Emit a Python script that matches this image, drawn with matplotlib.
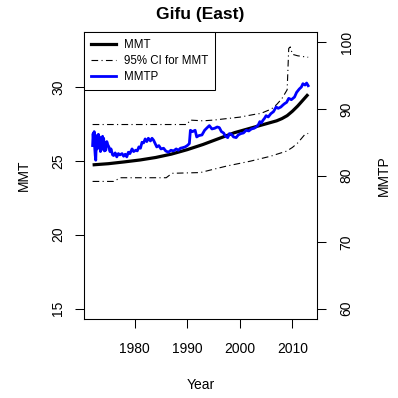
import numpy as np
import matplotlib.pyplot as plt
from matplotlib.lines import Line2D

plt.rcParams['font.family'] = ['Liberation Sans', 'DejaVu Sans']

# MMT (left axis)
mmt_year = [1972, 1975, 1978, 1981, 1984, 1987, 1990, 1993, 1996, 1999,
            2002, 2005, 2007, 2008, 2009, 2010, 2011, 2012, 2013]
mmt = [24.72, 24.8, 24.92, 25.05, 25.22, 25.45, 25.75, 26.1, 26.5, 26.9,
       27.2, 27.5, 27.7, 27.85, 28.05, 28.35, 28.7, 29.1, 29.5]

# 95% CI for MMT
ci_up_year = [1972, 1990, 1990.5, 1993, 1995, 2000, 2003, 2004, 2006, 2007,
              2008, 2009, 2009.3, 2009.6, 2010, 2011, 2013]
ci_up = [27.45, 27.45, 27.75, 27.7, 27.75, 27.95, 28.15, 28.2, 28.5, 28.8,
         29.2, 29.8, 32.6, 32.7, 32.2, 32.1, 32.0]
ci_lo_year = [1972, 1976, 1977.3, 1986, 1987.1, 1992.5, 1994.4, 1997.5, 2002,
              2005.8, 2008.9, 2010, 2011, 2012.3, 2013]
ci_lo = [23.6, 23.6, 23.85, 23.85, 24.15, 24.2, 24.37, 24.64, 24.97,
         25.3, 25.65, 25.9, 26.2, 26.75, 26.85]

# MMTP (right axis)
mmtp_year = [1972.0, 1972.1, 1972.2, 1972.3, 1972.4, 1972.5, 1972.6, 1972.7, 1972.8, 1972.9,
             1973.0, 1973.1, 1973.2, 1973.35, 1973.5, 1973.6, 1973.75, 1973.9, 1974.0, 1974.1,
             1974.25, 1974.4, 1974.5, 1974.7, 1974.9, 1975.1, 1975.3, 1975.5, 1975.8, 1976.0,
             1976.3, 1976.6, 1976.9, 1977.2, 1977.6, 1977.9, 1978.2, 1978.5, 1978.8, 1979.1,
             1979.5, 1979.8, 1980.2, 1980.5, 1980.8, 1981.1, 1981.4, 1981.7, 1982.0, 1982.3,
             1982.6, 1983.0, 1983.3, 1983.6, 1983.9, 1984.2, 1984.6, 1985.0, 1985.5, 1985.9,
             1986.4, 1986.9, 1987.4, 1987.9, 1988.3, 1988.7, 1989.2, 1989.6, 1990.0, 1990.4,
             1990.6, 1991.0, 1991.5, 1991.8, 1992.2, 1992.8, 1993.3, 1993.8, 1994.2, 1994.7,
             1995.2, 1995.7, 1996.1, 1996.5, 1996.9, 1997.3, 1997.7, 1998.0, 1998.4, 1998.8,
             1999.3, 1999.7, 2000.2, 2000.7, 2001.2, 2001.7, 2002.2, 2002.7, 2003.1, 2003.5,
             2003.8, 2004.1, 2004.4, 2004.7, 2005.0, 2005.4, 2005.9, 2006.4, 2006.9, 2007.3,
             2007.8, 2008.2, 2008.5, 2008.9, 2009.3, 2009.8, 2010.4, 2010.8, 2011.3, 2011.7,
             2012.0, 2012.4, 2012.7, 2013.0]
mmtp = [84.5, 86.3, 85.0, 86.6, 84.2, 83.0, 82.3, 84.8, 86.0, 84.0,
        85.4, 86.2, 84.5, 85.8, 83.6, 84.8, 83.9, 85.9, 84.2, 85.6,
        83.7, 84.9, 83.8, 85.1, 84.6, 84.3, 83.6, 84.0, 83.1, 83.0,
        83.4, 82.8, 83.3, 83.1, 83.3, 82.9, 83.2, 82.8, 83.5, 83.3,
        84.0, 83.6, 83.8, 83.7, 84.3, 84.1, 85.0, 84.9, 85.5, 85.1,
        85.6, 85.2, 85.6, 85.3, 84.8, 84.3, 84.5, 84.0, 84.1, 83.7,
        83.5, 83.8, 83.7, 84.0, 83.8, 84.1, 84.2, 84.3, 84.5, 84.8,
        86.8, 86.6, 86.8, 85.8, 86.0, 86.1, 86.8, 87.2, 87.5, 87.0,
        87.1, 87.3, 87.2, 86.6, 86.4, 85.9, 85.7, 86.3, 86.2, 85.8,
        85.7, 86.1, 86.3, 86.4, 86.8, 86.7, 87.0, 87.1, 87.3, 87.6,
        88.1, 87.9, 88.3, 88.6, 89.0, 88.8, 89.3, 89.6, 90.3, 90.1,
        90.3, 90.6, 90.8, 91.0, 91.6, 91.4, 91.8, 92.5, 93.0, 93.3,
        93.8, 93.6, 93.9, 93.5]

x_ticks = [1980, 1990, 2000, 2010]
left_ticks = [15, 20, 25, 30]
right_ticks = [60, 70, 80, 90, 100]

fig = plt.figure(figsize=(3.98, 3.98), dpi=100)
ax = fig.add_axes([0.211, 0.198, 0.585, 0.722])
ax2 = ax.twinx()

dd = (0, (6, 3, 1, 3))
ax.plot(mmt_year, mmt, color='black', lw=2.3, solid_capstyle='butt')
ax.plot(ci_up_year, ci_up, color='black', lw=0.8, linestyle=dd)
ax.plot(ci_lo_year, ci_lo, color='black', lw=0.8, linestyle=dd)
ax2.plot(mmtp_year, mmtp, color='#0000ff', lw=2.0)

# R style axis ranges (4% padding)
ax.set_xlim(1972 - 0.04 * 41, 2013 + 0.04 * 41)
ax.set_ylim(15 - 0.04 * 18, 33 + 0.04 * 18)
ax2.set_ylim(60 - 0.04 * 40, 100 + 0.04 * 40)

ax.set_xticks(x_ticks)
ax.set_yticks(left_ticks)
ax2.set_yticks(right_ticks)
ax.set_yticklabels([str(t) for t in left_ticks], rotation=90, va='center')
ax2.set_yticklabels([str(t) for t in right_ticks], rotation=90, va='center')

for a in (ax, ax2):
    a.tick_params(direction='out', length=6.5, width=0.75, labelsize=10, pad=10)
    for s in a.spines.values():
        s.set_linewidth(0.75)
ax.tick_params(axis='y', pad=7)

ax.set_xlabel('Year', fontsize=10, labelpad=16)
ax.set_ylabel('MMT', fontsize=10, labelpad=15)
ax2.set_ylabel('MMTP', fontsize=10, labelpad=17)
ax.set_title('Gifu (East)', fontsize=12.5, fontweight='bold', pad=9)

handles = [Line2D([], [], color='black', lw=2.3),
           Line2D([], [], color='black', lw=0.8, linestyle=dd),
           Line2D([], [], color='#0000ff', lw=2.0)]
leg = ax2.legend(handles, ['MMT', '95% CI for MMT', 'MMTP'], loc='upper left',
                 bbox_to_anchor=(0, 1), borderaxespad=0, fontsize=8.3,
                 fancybox=False, framealpha=1, edgecolor='black',
                 handlelength=2.2, handletextpad=0.7, labelspacing=0.35,
                 borderpad=0.6)
leg.get_frame().set_linewidth(0.75)

fig.savefig('out.png', dpi=100)
